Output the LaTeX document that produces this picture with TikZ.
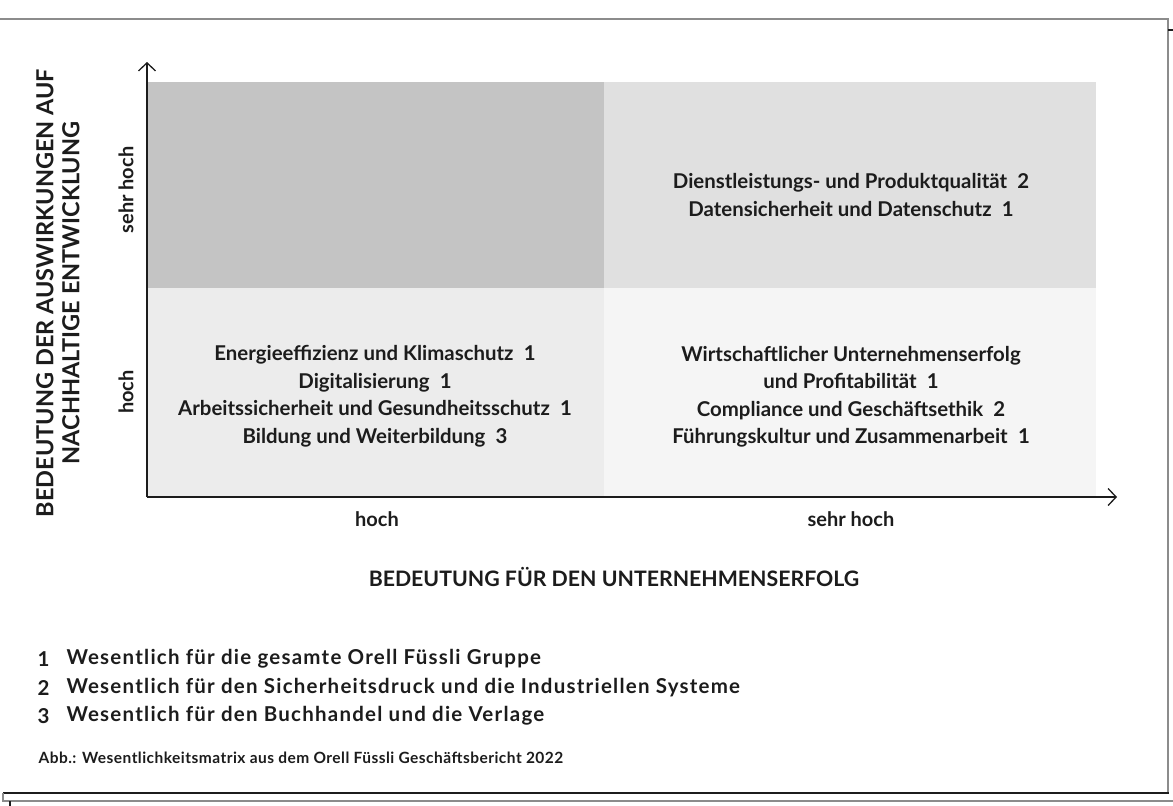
\documentclass[tikz,border=0pt]{standalone}
\usepackage{fontspec}
\setmainfont{Lato}
\usepackage{xcolor}
\usetikzlibrary{arrows.meta}
\usetikzlibrary{positioning}

\definecolor{ink}{HTML}{1C1C1C}
\definecolor{quadA}{HTML}{C4C4C4}
\definecolor{quadB}{HTML}{E0E0E0}
\definecolor{quadC}{HTML}{ECECEC}
\definecolor{quadD}{HTML}{F5F5F5}
\definecolor{edge}{HTML}{8C8C8C}

\begin{document}
\begin{tikzpicture}[x=1pt,y=-1pt,
axis/.style={line width=1.3pt,ink,-{Straight Barb[length=8pt,width=17pt,line width=1.3pt]}},
quadtext/.style={font=\fontsize{20.4}{27.5}\selectfont\bfseries,text=ink,align=center},
ticklab/.style={font=\fontsize{20}{22}\selectfont\bfseries,text=ink},
axtitle/.style={font=\fontsize{21.3}{25}\selectfont\bfseries,text=ink,align=center},
legend/.style={font=\fontsize{20.5}{24}\selectfont\bfseries\addfontfeature{LetterSpace=6},text=ink,anchor=west}]
\useasboundingbox (0,0) rectangle (1173,806);
\draw[edge,line width=2pt] (0,18.5) -- (1168,18.5) -- (1168,793);
\draw[ink,line width=1.2pt] (1168,30) -- (1173,30);
\draw[ink,line width=1.4pt] (3,793) -- (1169,793);
\draw[edge,line width=1.4pt] (3,793) -- (3,801) -- (1173,801);
\draw[ink,line width=1.2pt] (10,801) -- (10,806);
\fill[quadA] (147,82) rectangle (604,288);
\fill[quadB] (604,82) rectangle (1096,288);
\fill[quadC] (147,288) rectangle (604,497);
\fill[quadD] (604,288) rectangle (1096,497);
\coordinate (orig) at (147,497);
\coordinate (ytip) at (147,62);
\coordinate (xtip) at (1117,497);
\draw[axis] (orig) -- (ytip);
\draw[axis] (orig) -- (xtip);
\node[quadtext] (topright) at (851,195) {Dienstleistungs- und Produktqualität\enspace2\\Datensicherheit und Datenschutz\enspace1};
\node[quadtext] (botleft) at (375,396) {Energieeffizienz und Klimaschutz\enspace1\\Digitalisierung\enspace1\\Arbeitssicherheit und Gesundheitsschutz\enspace1\\Bildung und Weiterbildung\enspace3};
\node[quadtext] (botright) at (851,397) {Wirtschaftlicher Unternehmenserfolg\\und Profitabilität\enspace1\\Compliance und Geschäftsethik\enspace2\\Führungskultur und Zusammenarbeit\enspace1};
\node[ticklab] (xlow) at (377,519) {hoch};
\node[ticklab] (xhigh) at (851,519) {sehr hoch};
\node[ticklab,rotate=90] (ylow) at (126,392) {hoch};
\node[ticklab,rotate=90] (yhigh) at (126,190) {sehr hoch};
\node[axtitle,rotate=90,font=\fontsize{23.5}{26}\selectfont\bfseries] (ytitle) at (58,293) {BEDEUTUNG DER AUSWIRKUNGEN AUF\\NACHHALTIGE ENTWICKLUNG};
\node[axtitle] (xtitle) at (614,577) {BEDEUTUNG FÜR DEN UNTERNEHMENSERFOLG};
\foreach \n/\txt [count=\i] in {1/Wesentlich für die gesamte Orell Füssli Gruppe,2/Wesentlich für den Sicherheitsdruck und die Industriellen Systeme,3/Wesentlich für den Buchhandel und die Verlage}{
\node[legend] (num\i) at (34,630.5+28.5*\i) {\n};
\node[legend] (leg\i) at (63,630.5+28.5*\i) {\txt};
}
\node[legend,font=\fontsize{15.5}{18}\selectfont\bfseries\addfontfeature{LetterSpace=3}] (caption) at (35,758) {Abb.: Wesentlichkeitsmatrix aus dem Orell Füssli Geschäftsbericht 2022};
\end{tikzpicture}
\end{document}
